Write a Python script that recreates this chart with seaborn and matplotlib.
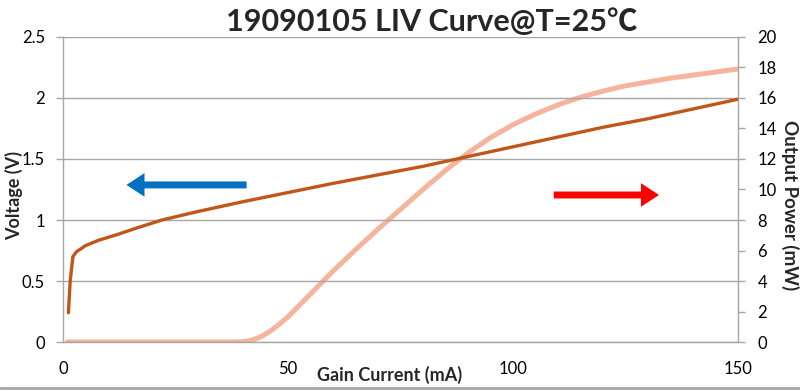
import matplotlib
matplotlib.use("Agg")
import matplotlib.pyplot as plt
import seaborn as sns
import pandas as pd
from matplotlib.lines import Line2D

# ---- data ----
v_current = [1.2, 1.6, 2.2, 3, 5, 8, 12, 16, 22, 30, 40, 50, 60, 70, 80, 90, 100, 110, 120, 130, 140, 150]
voltage = [0.24, 0.50, 0.70, 0.74, 0.79, 0.835, 0.88, 0.93, 1.0, 1.07, 1.15, 1.225, 1.30, 1.37, 1.44, 1.52, 1.60, 1.68, 1.76, 1.83, 1.91, 1.99]

p_current = [1, 10, 20, 30, 38, 40, 42, 44, 46, 48, 50, 55, 60, 65, 70, 75, 80, 85, 90, 95, 100, 105, 110, 115, 120, 125, 130, 135, 140, 145, 150]
power = [0, 0, 0, 0, 0, 0.02, 0.12, 0.35, 0.7, 1.15, 1.65, 3.15, 4.65, 6.05, 7.4, 8.7, 10.0, 11.25, 12.4, 13.4, 14.25, 14.95, 15.55, 16.05, 16.45, 16.8, 17.05, 17.3, 17.5, 17.7, 17.9]

x_ticks = [0, 50, 100, 150]
v_ticks = [0, 0.5, 1, 1.5, 2, 2.5]
p_ticks = [0, 2, 4, 6, 8, 10, 12, 14, 16, 18, 20]
v_tick_labels = ["0", "0.5", "1", "1.5", "2", "2.5"]

title = "19090105 LIV Curve@T=25℃"
xlabel = "Gain Current (mA)"
ylabel_left = "Voltage (V)"
ylabel_right = "Output Power (mW)"

v_color = "#C0561A"
p_color = "#F5B49B"
grid_color = "#A6A6A6"

sns.set_style("white")
plt.rcParams['font.family'] = ['Lato', 'Noto Sans CJK SC', 'DejaVu Sans']

fig = plt.figure(figsize=(8, 3.91), dpi=100)
ax = fig.add_axes([0.07875, 0.1253, 0.84375, 0.7801])
ax2 = ax.twinx()

dfv = pd.DataFrame({"I": v_current, "V": voltage})
dfp = pd.DataFrame({"I": p_current, "P": power})

sns.lineplot(data=dfp, x="I", y="P", ax=ax2, color=p_color, linewidth=3.6, solid_capstyle="round")
sns.lineplot(data=dfv, x="I", y="V", ax=ax, color=v_color, linewidth=2.4, solid_capstyle="round")

# put voltage line over power line
ax.set_zorder(ax2.get_zorder() + 1)
ax.patch.set_visible(False)

ax.set_xlim(0, 150)
ax.set_ylim(0, 2.5)
ax2.set_ylim(0, 20)
ax.set_xticks(x_ticks)
ax.set_yticks(v_ticks)
ax.set_yticklabels(v_tick_labels)
ax2.set_yticks(p_ticks)

ax.yaxis.grid(True, color=grid_color, linewidth=1.0)
ax.set_axisbelow(True)
ax2.grid(False)

for a in (ax, ax2):
    a.spines["top"].set_visible(False)
    for s in ("left", "right", "bottom"):
        a.spines[s].set_color(grid_color)
        a.spines[s].set_linewidth(1.0)
ax.spines["right"].set_visible(False)
ax2.spines["left"].set_visible(False)
ax2.spines["bottom"].set_visible(False)

ax.tick_params(axis="both", which="both", direction="out", length=5, width=1.0,
               color=grid_color, labelsize=12, labelcolor="black")
ax.tick_params(axis="x", pad=9)
ax.tick_params(axis="y", pad=8)
ax2.tick_params(axis="y", direction="out", length=5, width=1.0, color=grid_color,
                labelsize=12, labelcolor="black", pad=9)

ax.set_xlabel("")
ax.set_ylabel("")
ax2.set_ylabel("")
fig.text(0.4875, 0.041, xlabel, ha="center", va="center", fontsize=13, fontweight="bold")
fig.text(0.017, 0.499, ylabel_left, ha="center", va="center", rotation=90, fontsize=13, fontweight="bold")
fig.text(0.987, 0.476, ylabel_right, ha="center", va="center", rotation=270, fontsize=13.5, fontweight="bold")
fig.text(0.54, 0.944, title, ha="center", va="center", fontsize=22, fontweight="bold")

# direction arrows
arrow_style = "simple,head_width=1.7,head_length=1.3,tail_width=0.5"
ax.annotate("", xy=(0.094, 0.515), xytext=(0.272, 0.515), xycoords="axes fraction",
            arrowprops=dict(arrowstyle=arrow_style, color="#0070C0", lw=0, shrinkA=0, shrinkB=0))
ax.annotate("", xy=(0.883, 0.482), xytext=(0.727, 0.482), xycoords="axes fraction",
            arrowprops=dict(arrowstyle=arrow_style, color="#FF0000", lw=0, shrinkA=0, shrinkB=0))

# bottom border line
fig.add_artist(Line2D([0, 1], [0.008, 0.008], transform=fig.transFigure, color="#A6A6A6", linewidth=2))

fig.savefig("out.png", dpi=100)
